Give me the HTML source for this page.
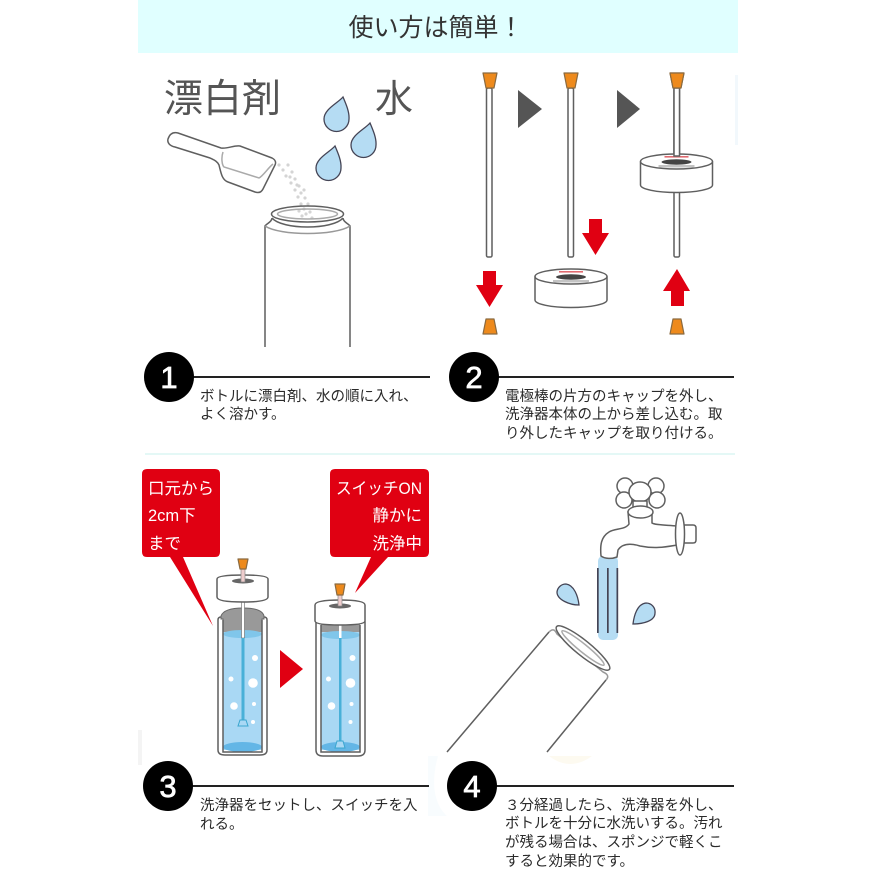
<!DOCTYPE html>
<html lang="ja"><head><meta charset="utf-8"><title>使い方は簡単！</title>
<style>
html,body{margin:0;padding:0;background:#fff;width:875px;height:875px;overflow:hidden}
svg{display:block;filter:blur(.35px)}
text{font-family:"Liberation Sans","Noto Sans CJK JP",sans-serif}
.d{font-size:14.5px;fill:#2a2a2a}
.n{font-size:31px;fill:#fff;text-anchor:middle;stroke:#fff;stroke-width:.7}
.c{font-size:16.5px;fill:#fff}
.o{fill:#fff;stroke:#5f5f5f;stroke-width:1.5}
.l{fill:none;stroke:#5f5f5f;stroke-width:1.5}
.drop{fill:#b5dcf3;stroke:#445;stroke-width:1.3}
.cap{fill:#ee8a1c;stroke:#8a6a40;stroke-width:1.2;stroke-linejoin:round}
.red{fill:#e00012}
</style></head><body>
<svg width="875" height="875" viewBox="0 0 875 875" xmlns="http://www.w3.org/2000/svg">
<defs>
<g id="disc">
<path class="o" d="M0 7.500 A36 7.500 0 0 1 72 7.500 V31 A36 7.500 0 0 1 0 31Z"/>
<path class="l" d="M0 7.500 A36 7.500 0 0 0 72 7.500"/>
<rect x="24" y="2" width="24" height="1.600" fill="#e06a70"/>
<ellipse cx="36" cy="8" rx="15" ry="2.700" fill="#444"/>
<rect x="18" y="11" width="36" height="2.500" fill="#c4c4c4"/>
</g>
<g id="bub">
<circle cx="0" cy="0" r="3" fill="#fff"/><circle cx="-24" cy="21" r="2.500" fill="#fff"/>
<circle cx="-2" cy="25" r="4.800" fill="#fff"/><circle cx="-21" cy="48" r="3.800" fill="#fff"/>
<circle cx="-1" cy="46" r="2" fill="#fff"/><circle cx="-2" cy="64" r="2" fill="#fff"/>
</g>
</defs>
<rect x="138" y="0" width="600" height="53" fill="#e0ffff"/>
<text x="436" y="36" font-size="25" fill="#333" text-anchor="middle">使い方は簡単！</text>
<rect x="145" y="453" width="590" height="2" fill="#e4f8f6"/>

<!-- panel 1 -->
<text x="164" y="112" font-size="39" fill="#555">漂白剤</text>
<text x="375" y="112" font-size="38" fill="#555">水</text>
<path class="drop" d="M343 97 C338 103 324 109 324 119 A12.500 12.500 0 0 0 349 119 C349.500 112 346 104 343 97Z"/>
<path class="drop" d="M370 123 C365 129 351 135 351 145 A12.500 12.500 0 0 0 376 145 C376.500 138 373 130 370 123Z"/>
<path class="drop" d="M335 146 C330 152 316 158 316 168 A12.500 12.500 0 0 0 341 168 C341.500 161 338 153 335 146Z"/>
<path class="o" d="M168 139 C170 133 174 132 178 133 L221 148 C228 149 234 145 240 146 L272 158 C276 160 276 163 275 165 L263 189 C261 193 258 193 255 192 L228 182 C222 180 221 173 219 165 C217 161 214 160 210 158 L175 147 C170 146 167 143 168 139Z"/>
<path class="l" d="M223 152 C221 158 222 165 224 167 L259 178 C263 176 268 168 273 164" style="stroke:#aaa"/>
<g fill="#d4d4d4">
<circle cx="279" cy="165" r="1.600"/><circle cx="283" cy="170" r="1.600"/><circle cx="288" cy="165" r="1.600"/><circle cx="286" cy="176" r="1.600"/><circle cx="292" cy="172" r="1.600"/><circle cx="295" cy="179" r="1.600"/><circle cx="291" cy="183" r="1.600"/><circle cx="299" cy="186" r="1.600"/><circle cx="295" cy="190" r="1.600"/><circle cx="304" cy="190" r="1.600"/><circle cx="298" cy="197" r="1.600"/><circle cx="305" cy="198" r="1.600"/><circle cx="301" cy="204" r="1.600"/><circle cx="308" cy="204" r="1.600"/><circle cx="304" cy="209" r="1.600"/><circle cx="310" cy="212" r="1.600"/><circle cx="302" cy="216" r="1.600"/><circle cx="312" cy="218" r="1.600"/><circle cx="290" cy="177" r="1.600"/><circle cx="297" cy="185" r="1.600"/><circle cx="301" cy="193" r="1.600"/><circle cx="306" cy="214" r="1.600"/><circle cx="299" cy="211" r="1.600"/>
</g>
<path class="l" d="M265 347 V226 C266 224 272 222 272 218"/>
<path class="l" d="M350 347 V226 C349 224 343 222 343 218"/>
<path class="l" style="stroke:#999" d="M265 226 C280 236 335 236 350 226"/>
<ellipse class="l" cx="307.500" cy="214" rx="36" ry="8"/>
<ellipse class="l" style="stroke:#aaa" cx="307.500" cy="214" rx="30" ry="5"/>
<path class="l" d="M272 218 C282 230 333 230 343 218"/>

<!-- panel 2 -->
<path d="M518 90 L542 109 L518 128Z M617 90 L640 109 L617 128Z" fill="#555"/>
<rect class="o" x="486.500" y="88" width="5.500" height="169" rx="1.500"/>
<rect class="o" x="568" y="88" width="5.500" height="169" rx="1.500"/>
<rect class="o" x="674" y="88" width="5.500" height="169" rx="1.500"/>
<path class="cap" d="M483 73 H497 L494 88 H486Z"/>
<path class="cap" d="M564 73 H578 L575 88 H567Z"/>
<path class="cap" d="M670 73 H684 L681 88 H673Z"/>
<path class="cap" d="M486 319 H494 L497 334 H483Z"/>
<path class="cap" d="M673 319 H681 L684 334 H670Z"/>
<path class="red" d="M483 271 H496 V285 H503 L489.500 307 L476 285 H483Z"/>
<path class="red" d="M589 219 H602 V233 H609 L595.500 255 L582 233 H589Z"/>
<path class="red" d="M671 306 H684 V291 H690 L677 269 L663 291 H671Z"/>
<use href="#disc" x="535" y="269"/>
<use href="#disc" x="640.500" y="154"/>
<rect class="o" x="674" y="88" width="5.500" height="68"/>
<path class="cap" d="M670 73 H684 L681 88 H673Z"/>

<!-- panel 3 -->
<path class="red" d="M147 469 H215 Q220 469 220 474 V552 Q220 557 215 557 H183 L213 626 L170 557 H147 Q142 557 142 552 V474 Q142 469 147 469Z"/>
<path class="red" d="M335 469 H424 Q429 469 429 474 V552 Q429 557 424 557 H388 L355 593 L371 557 H335 Q330 557 330 552 V474 Q330 469 335 469Z"/>
<text class="c" x="148" y="494">口元から</text>
<text class="c" x="148" y="521">2cm下</text>
<text class="c" x="148" y="549">まで</text>
<text class="c" x="336" y="494" textLength="86" lengthAdjust="spacingAndGlyphs">スイッチON</text>
<text class="c" x="422" y="521" text-anchor="end">静かに</text>
<text class="c" x="422" y="549" text-anchor="end">洗浄中</text>
<path class="red" d="M280 650 L303 669 L280 688Z"/>

<!-- left bottle -->
<path d="M218 620 Q218 617 221 617 H264 Q267 617 267 620 V750 Q267 755 260 755 H225 Q218 755 218 750Z" fill="#fff" stroke="#5f5f5f" stroke-width="1.500"/>
<path d="M221 619 V616 Q224 608 243 608 Q262 608 264 616 V619 H262 V640 H223 V619Z" fill="#999" stroke="#666"/>
<rect x="223" y="632" width="39" height="118" fill="#a9d8f4"/>
<ellipse cx="242.500" cy="634" rx="19.500" ry="4" fill="#80c6ea"/>
<ellipse cx="242.500" cy="747" rx="19.500" ry="5" fill="#63b6e6"/>
<path class="l" d="M223 620 V752 H262 V620"/>
<rect x="241.500" y="600" width="3" height="38" fill="#fff" stroke="#666" stroke-width=".6"/>
<rect x="241.500" y="638" width="3" height="85" fill="#48b0d8"/>
<path d="M240 720 H246 L248 726 H238Z" fill="#a9d8f4" stroke="#3aa6cf"/>
<use href="#bub" x="255" y="658"/>
<path class="o" d="M217 579 Q217 575 243 575 Q268 575 268 579 V597 Q268 602 243 602 Q217 602 217 597Z"/>
<ellipse cx="243" cy="581" rx="11" ry="2.500" fill="#666"/>
<rect x="241" y="568" width="4" height="14" fill="#eecccc" stroke="#888" stroke-width=".7"/>
<path class="cap" d="M238 559 H248 L246 569 H240Z"/>

<!-- right bottle -->
<path d="M316 622 V750 Q316 756 323 756 H358 Q365 756 365 750 V622Z" fill="#fff" stroke="#5f5f5f" stroke-width="1.500"/>
<rect x="321" y="622" width="39" height="128" fill="#999"/>
<rect x="321" y="632" width="39" height="118" fill="#a9d8f4"/>
<ellipse cx="340.500" cy="635" rx="19.500" ry="4" fill="#80c6ea"/>
<ellipse cx="340.500" cy="747" rx="19.500" ry="5" fill="#63b6e6"/>
<path class="l" d="M321 625 V752 H360 V625"/>
<rect x="339" y="625" width="2.500" height="13" fill="#fff"/>
<rect x="339" y="638" width="2.500" height="105" fill="#48b0d8"/>
<path d="M337 741 H343 L345 748 H335Z" fill="#a9d8f4" stroke="#3aa6cf"/>
<use href="#bub" x="352.500" y="658"/>
<path class="o" d="M315 605 Q315 600 340 600 Q365 600 365 605 V621 Q365 625 340 625 Q315 625 315 621Z"/>
<ellipse cx="340" cy="606" rx="11" ry="2.500" fill="#666"/>
<rect x="338" y="595" width="4" height="11" fill="#eecccc" stroke="#888" stroke-width=".7"/>
<path class="cap" d="M335 584 H345 L343 595 H337Z"/>

<!-- panel 4 -->
<rect x="598" y="556" width="20" height="84" rx="5" fill="#b5dcf3"/>
<rect x="597" y="568" width="1.700" height="65" fill="#445"/>
<rect x="607" y="568" width="1.700" height="65" fill="#445"/>
<rect x="616.500" y="568" width="1.700" height="65" fill="#445"/>
<circle class="o" cx="625" cy="486" r="8"/><circle class="o" cx="656" cy="486" r="8"/>
<circle class="o" cx="624" cy="500" r="8"/><circle class="o" cx="657" cy="500" r="8"/>
<ellipse class="o" cx="640" cy="492" rx="11" ry="10"/>
<rect class="o" x="633" y="501" width="14" height="7"/>
<path class="o" d="M628 512 H652 V523 C655 525 665 525 677 526 V545 C665 547 655 549 640 546 C630 543 622 544 618 550 L617 557 C612 559 605 559 601 556 C600 545 601 537 609 532 C615 528 625 530 629 524Z"/>
<ellipse class="o" cx="640.500" cy="512" rx="12.500" ry="6"/>
<path class="o" d="M684 525 H693 Q696 525 696 528 V540 Q696 543 693 543 H684Z"/>
<ellipse class="o" cx="680" cy="534" rx="4.500" ry="21"/>
<path class="drop" d="M579 605 C570 605 557 600 557 592 A9 9 0 0 1 566 584 C574 585 578 596 579 605Z"/>
<path class="drop" d="M633 624 C643 624 655 621 655 613 A9 9 0 0 0 646 603 C637 604 634 616 633 624Z"/>
<path class="l" d="M447 752 L549 632"/>
<path class="l" d="M547 752 L606 680"/>
<path class="l" style="stroke:#999" d="M549 632 C553 628 555 630 557 634 L603 672 C608 674 609 677 606 680"/>
<ellipse class="o" cx="583" cy="648" rx="34" ry="7.500" transform="rotate(39 583 648)"/>
<ellipse class="l" style="stroke:#aaa" cx="583" cy="648" rx="27" ry="4" transform="rotate(39 583 648)"/>

<!-- faint artefacts -->
<path d="M549 756 Q570 772 592 756Z" fill="#fdfaf0"/>
<path d="M438 756 C430 785 435 805 447 816 H428 V756Z" fill="#eaf6fb" opacity=".35"/>
<rect x="138" y="730" width="4" height="35" fill="#f4f4f4"/>
<rect x="735" y="75" width="3" height="70" fill="#f2f8fc"/>

<!-- steps -->
<rect x="169" y="376" width="261" height="2" fill="#222"/>
<rect x="474" y="376" width="260" height="2" fill="#222"/>
<rect x="168" y="785" width="261" height="2" fill="#222"/>
<rect x="472" y="785" width="262" height="2" fill="#222"/>
<circle cx="169" cy="377" r="25" fill="#000"/>
<circle cx="474" cy="377" r="25" fill="#000"/>
<circle cx="168" cy="786" r="25" fill="#000"/>
<circle cx="472" cy="786" r="25" fill="#000"/>
<text class="n" x="169" y="388">1</text>
<text class="n" x="474" y="388">2</text>
<text class="n" x="168" y="797">3</text>
<text class="n" x="472" y="797">4</text>

<text class="d" x="200" y="401">ボトルに漂白剤、水の順に入れ、</text>
<text class="d" x="200" y="419">よく溶かす。</text>
<text class="d" x="505" y="401">電極棒の片方のキャップを外し、</text>
<text class="d" x="505" y="419">洗浄器本体の上から差し込む。取</text>
<text class="d" x="505" y="438">り外したキャップを取り付ける。</text>
<text class="d" x="200" y="810">洗浄器をセットし、スイッチを入</text>
<text class="d" x="200" y="829">れる。</text>
<text class="d" x="505" y="810">３分経過したら、洗浄器を外し、</text>
<text class="d" x="505" y="828">ボトルを十分に水洗いする。汚れ</text>
<text class="d" x="505" y="847">が残る場合は、スポンジで軽くこ</text>
<text class="d" x="505" y="866">すると効果的です。</text>
</svg>
</body></html>
